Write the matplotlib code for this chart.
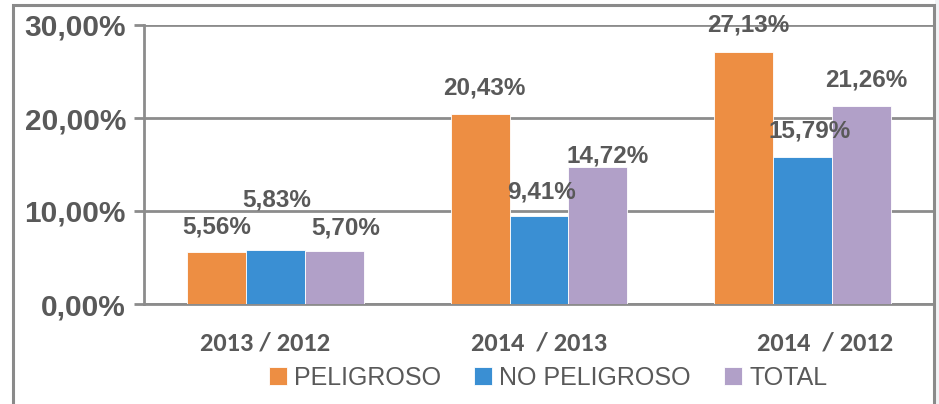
import matplotlib
matplotlib.use("Agg")
import matplotlib.pyplot as plt
import matplotlib.transforms as mtransforms
from matplotlib.patches import Rectangle
import numpy as np

# data
categories = ["2013 / 2012", "2014  / 2013", "2014  / 2012"]
series_names = ["PELIGROSO", "NO PELIGROSO", "TOTAL"]
peligroso = [5.56, 20.43, 27.13]
no_peligroso = [5.83, 9.41, 15.79]
total = [5.70, 14.72, 21.26]
y_ticks = [0, 10, 20, 30]

colors = ["#ED8E43", "#3A8FD3", "#B1A0C8"]
text_gray = "#595959"
grid_gray = "#8C8C8C"

# label offsets (pixels) relative to top-centre of each bar, per series / group
label_dx = [[0, 4, 5], [1, 3, 7], [11, 10, 5]]
label_dy = [[25, 26, 27], [50, 24, 26], [23, 11, 26]]
xlabel_dx = [-11, 0, 23]

W, H = 939, 404
fig = plt.figure(figsize=(W / 100, H / 100), dpi=100)
fig.patch.set_facecolor("white")

# light gray strip outside the frame + outer frame
fig.patches.append(Rectangle((935 / W, 0), 4 / W, 1, transform=fig.transFigure,
                             facecolor="#F1F3F5", edgecolor="none", zorder=0))
fig.patches.append(Rectangle((13 / W, -0.1), (934 - 13) / W, 1.1 - 5 / H,
                             transform=fig.transFigure, facecolor="none",
                             edgecolor="#8A8A8A", linewidth=2.2, zorder=1))

ax = fig.add_axes([144 / W, (H - 304) / H, (934 - 144) / W, (304 - 25) / H])
ax.set_facecolor("white")

x = np.arange(len(categories))
bw = 0.224
all_series = [peligroso, no_peligroso, total]
for i, vals in enumerate(all_series):
    xs = x + (i - 1) * bw
    ax.bar(xs, vals, width=bw, color=colors[i], edgecolor="white",
           linewidth=0.6, zorder=3, label=series_names[i])
    for j, v in enumerate(vals):
        lab = f"{v:.2f}".replace(".", ",") + "%"
        ax.annotate(lab, xy=(xs[j], v), xytext=(label_dx[i][j], label_dy[i][j]),
                    textcoords="offset pixels", ha="center", va="center",
                    fontsize=17.5, fontweight="bold", color=text_gray,
                    family="Liberation Sans", zorder=5)

ax.set_xlim(-0.5, 2.5)
ax.set_ylim(0, 30)
ax.set_yticks(y_ticks)
ax.set_yticklabels([f"{t},00%" for t in y_ticks], fontsize=21.5,
                   fontweight="bold", color=text_gray, family="Liberation Sans")
ax.yaxis.grid(True, color=grid_gray, linewidth=2, zorder=1)
ax.tick_params(axis="y", length=7, width=2, color=grid_gray, pad=6)
ax.tick_params(axis="x", length=0, pad=20)

ax.set_xticks(x)
ax.set_xticklabels(categories, fontsize=19, fontweight="bold", color=text_gray,
                   family=["Carlito", "Open Sans", "DejaVu Sans"])
for lbl, dx in zip(ax.get_xticklabels(), xlabel_dx):
    lbl.set_transform(lbl.get_transform() +
                      mtransforms.ScaledTranslation(dx / 100, 0, fig.dpi_scale_trans))

for s in ["top", "right"]:
    ax.spines[s].set_visible(False)
ax.spines["left"].set_color(grid_gray)
ax.spines["left"].set_linewidth(2)
ax.spines["bottom"].set_color(grid_gray)
ax.spines["bottom"].set_linewidth(2)

leg = fig.legend(loc="center", bbox_to_anchor=(548 / W, 1 - 378 / H), ncol=3,
                 frameon=False, handlelength=0.72, handleheight=0.72,
                 handletextpad=0.3, columnspacing=1.3,
                 prop={"family": "Liberation Sans", "size": 18})
for t in leg.get_texts():
    t.set_color(text_gray)

fig.savefig("out.png", dpi=100)
